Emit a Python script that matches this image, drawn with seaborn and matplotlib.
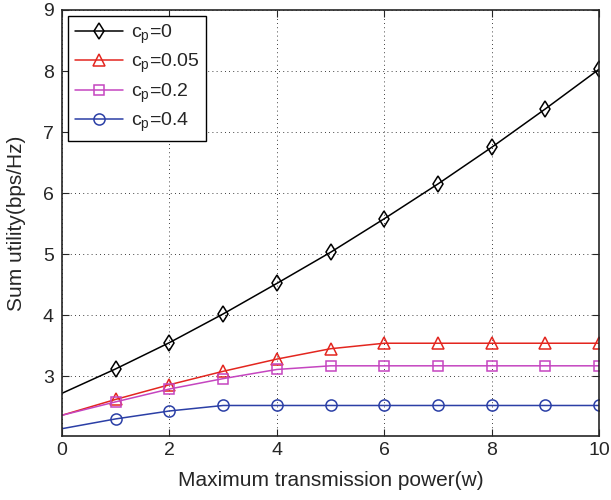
import numpy as np
import pandas as pd
from matplotlib import pyplot as plt
import seaborn as sns

power = [0, 1, 2, 3, 4, 5, 6, 7, 8, 9, 10]
cp_0 = [2.72, 3.12, 3.55, 4.02, 4.52, 5.03, 5.58, 6.15, 6.75, 7.38, 8.03]
cp_005 = [2.36, 2.62, 2.86, 3.08, 3.28, 3.45, 3.54, 3.54, 3.54, 3.54, 3.54]
cp_02 = [2.36, 2.58, 2.79, 2.96, 3.11, 3.17, 3.17, 3.17, 3.17, 3.17, 3.17]
cp_04 = [2.14, 2.30, 2.43, 2.52, 2.52, 2.52, 2.52, 2.52, 2.52, 2.52, 2.52]

labels = [r"c$_\mathregular{p}$=0", r"c$_\mathregular{p}$=0.05",
          r"c$_\mathregular{p}$=0.2", r"c$_\mathregular{p}$=0.4"]
series = [cp_0, cp_005, cp_02, cp_04]
colors = ["black", "#e3261f", "#c545c0", "#2b3fa6"]
markers = ["d", "^", "s", "o"]
sizes = [8, 8, 7, 8]

sns.set_style("ticks")
plt.rcParams['font.family'] = ['Liberation Sans', 'DejaVu Sans']
plt.rcParams['mathtext.fontset'] = 'custom'
plt.rcParams['mathtext.rm'] = 'Liberation Sans'

fig = plt.figure(figsize=(6.11, 5.0), dpi=100)
ax = fig.add_axes([0.1015, 0.128, 0.879, 0.852])

for vals, lab, col, mk, ms in zip(series, labels, colors, markers, sizes):
    df = pd.DataFrame({"x": power, "y": vals})
    sns.lineplot(data=df, x="x", y="y", ax=ax, color=col, marker=mk, markersize=ms,
                 markerfacecolor="none", markeredgecolor=col, markeredgewidth=1.1,
                 linewidth=1.1, markevery=list(range(1, 11)), label=lab)

ax.set_xlim(0, 10)
ax.set_ylim(2.02, 9)
ax.set_xticks([0, 2, 4, 6, 8, 10])
ax.set_yticks([3, 4, 5, 6, 7, 8, 9])
ax.grid(True, linestyle=(0, (1, 4)), color="black", linewidth=0.6)
ax.tick_params(direction="in", labelsize=14, length=5, top=True, right=True)
ax.tick_params(axis="x", pad=4)
ax.tick_params(axis="y", pad=6)
for s in ax.spines.values():
    s.set_visible(True)
    s.set_linewidth(1.2)
ax.set_xlabel("Maximum transmission power(w)", fontsize=15, labelpad=9)
ax.set_ylabel("Sum utility(bps/Hz)", fontsize=15, labelpad=12)

leg = ax.legend(loc="upper left", fontsize=14, frameon=True, fancybox=False,
                edgecolor="black", framealpha=1, borderaxespad=0.3,
                handlelength=2.5, handletextpad=0.4, labelspacing=0.3,
                borderpad=0.35)
leg.get_frame().set_linewidth(1.0)

fig.savefig("out.png", dpi=100)
